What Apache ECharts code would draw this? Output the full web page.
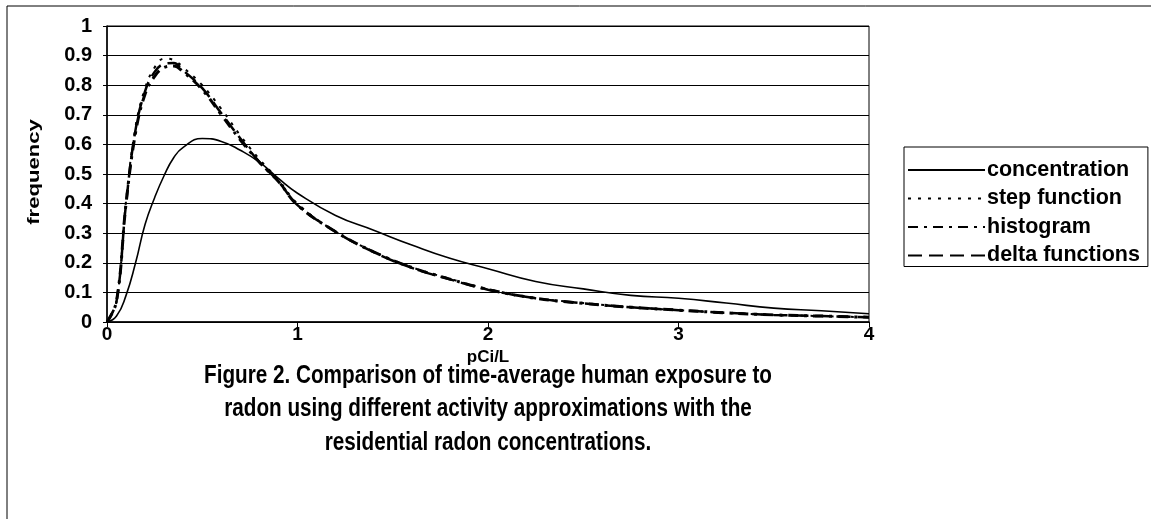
<!DOCTYPE html>
<html>
<head>
<meta charset="utf-8">
<script src="https://cdn.jsdelivr.net/npm/echarts@6/dist/echarts.min.js"></script>
<style>
  html, body { margin: 0; padding: 0; background: #fff; }
  #chart { width: 1151px; height: 519px; }
</style>
</head>
<body>
<div id="chart"></div>
<script>
// x positions (pCi/L) shared by all curves
const xs = [0, 0.05, 0.1, 0.15, 0.2, 0.25, 0.3, 0.35, 0.4, 0.5, 0.6, 0.7, 0.8, 0.9, 1.0,
  1.2, 1.4, 1.6, 1.8, 2.0, 2.25, 2.5, 2.75, 3.0, 3.25, 3.5, 3.75, 4.0];

const concentration = [0, 0.02, 0.09, 0.2, 0.33, 0.42, 0.495, 0.555, 0.59, 0.62, 0.61, 0.58, 0.54, 0.485, 0.435,
  0.36, 0.31, 0.26, 0.215, 0.18, 0.137, 0.112, 0.09, 0.08, 0.064, 0.047, 0.038, 0.028];
const stepFunction = [0, 0.07, 0.41, 0.66, 0.79, 0.86, 0.89, 0.885, 0.86, 0.80, 0.72, 0.63, 0.55, 0.48, 0.40,
  0.305, 0.238, 0.185, 0.146, 0.111, 0.081, 0.064, 0.05, 0.04, 0.031, 0.024, 0.02, 0.016];
const histogram = [0, 0.07, 0.40, 0.64, 0.77, 0.83, 0.86, 0.865, 0.845, 0.785, 0.70, 0.615, 0.54, 0.475, 0.395,
  0.305, 0.237, 0.184, 0.145, 0.11, 0.08, 0.063, 0.05, 0.04, 0.031, 0.024, 0.02, 0.016];
const deltaFunctions = [0, 0.07, 0.40, 0.65, 0.78, 0.845, 0.872, 0.875, 0.85, 0.79, 0.705, 0.62, 0.54, 0.475, 0.395,
  0.305, 0.236, 0.183, 0.144, 0.109, 0.08, 0.063, 0.05, 0.04, 0.031, 0.024, 0.02, 0.016];

const captionLines = [
  'Figure 2. Comparison of time-average human exposure to',
  'radon using different activity approximations with the',
  'residential radon concentrations.'
];

const pairs = ys => xs.map((x, i) => [x, ys[i]]);

const font = "Liberation Sans";
const chart = echarts.init(document.getElementById('chart'));

// caption: the scan's lettering is a bit taller than normal
const caption = captionLines.map((line, i) => ({
  type: 'text', silent: true,
  x: 488, y: 376 + i * 33.5,
  scaleY: 1.2,
  style: {
    text: line, fill: '#000',
    fontFamily: font, fontSize: 20.7, fontWeight: 'bold',
    align: 'center', verticalAlign: 'middle'
  }
}));

const option = {
  backgroundColor: '#fff',
  animation: false,
  legend: {
    orient: 'vertical',
    left: 904,
    top: 147,
    padding: [12, 8, 0, 3],
    itemWidth: 77,
    itemHeight: 14,
    itemGap: 6.5,
    borderColor: '#000',
    borderWidth: 1,
    itemStyle: { opacity: 0 },
    textStyle: { fontFamily: font, fontSize: 21.5, lineHeight: 20, fontWeight: 'bold', color: '#000', padding: [0, 0, 0, -3] },
    data: ['concentration', 'step function', 'histogram', 'delta functions']
  },
  grid: {
    left: 107, right: 282, top: 26, bottom: 197,
    show: true, borderColor: '#000', borderWidth: 1
  },
  xAxis: {
    type: 'value',
    min: 0, max: 4, interval: 1,
    name: 'pCi/L',
    nameLocation: 'middle',
    nameGap: 21,
    nameTextStyle: { fontFamily: font, fontSize: 17, fontWeight: 'bold', color: '#000' },
    axisLine: { lineStyle: { color: '#000', width: 1.5 } },
    axisTick: { show: true, length: 5, lineStyle: { color: '#000' } },
    axisLabel: { fontFamily: font, fontSize: 19, fontWeight: 'bold', color: '#000', margin: 3 },
    splitLine: { show: false }
  },
  yAxis: {
    type: 'value',
    min: 0, max: 1, interval: 0.1,
    axisLine: { show: true, lineStyle: { color: '#000', width: 1.5 } },
    axisTick: { show: true, length: 4, lineStyle: { color: '#000' } },
    axisLabel: { fontFamily: font, fontSize: 20, fontWeight: 'bold', color: '#000', margin: 15 },
    splitLine: { show: true, lineStyle: { color: '#000', width: 1 } }
  },
  series: [
    {
      name: 'concentration', type: 'line', smooth: 0.5, symbol: 'none',
      itemStyle: { color: '#000' },
      lineStyle: { color: '#000', width: 1.6, type: 'solid' },
      data: pairs(concentration)
    },
    {
      name: 'step function', type: 'line', smooth: 0.4, symbol: 'none',
      itemStyle: { color: '#000' },
      lineStyle: { color: '#000', width: 2, type: [3, 7] },
      data: pairs(stepFunction)
    },
    {
      name: 'histogram', type: 'line', smooth: 0.4, symbol: 'none',
      itemStyle: { color: '#000' },
      lineStyle: { color: '#000', width: 3, type: [10, 6, 3, 6] },
      data: pairs(histogram)
    },
    {
      name: 'delta functions', type: 'line', smooth: 0.4, symbol: 'none',
      itemStyle: { color: '#000' },
      lineStyle: { color: '#000', width: 2.5, type: [14, 7] },
      data: pairs(deltaFunctions)
    }
  ],
  graphic: [
    {
      type: 'rect', silent: true,
      shape: { x: 7, y: 6, width: 1300, height: 700 },
      style: { fill: 'none', stroke: '#000', lineWidth: 1 }
    },
    {
      type: 'text', silent: true,
      x: 34, y: 172,
      rotation: Math.PI / 2,
      scaleX: 1.3,
      style: {
        text: 'frequency', fill: '#000',
        fontFamily: font, fontSize: 17, fontWeight: 'bold',
        align: 'center', verticalAlign: 'middle'
      }
    }
  ].concat(caption)
};

chart.setOption(option);
</script>
</body>
</html>
